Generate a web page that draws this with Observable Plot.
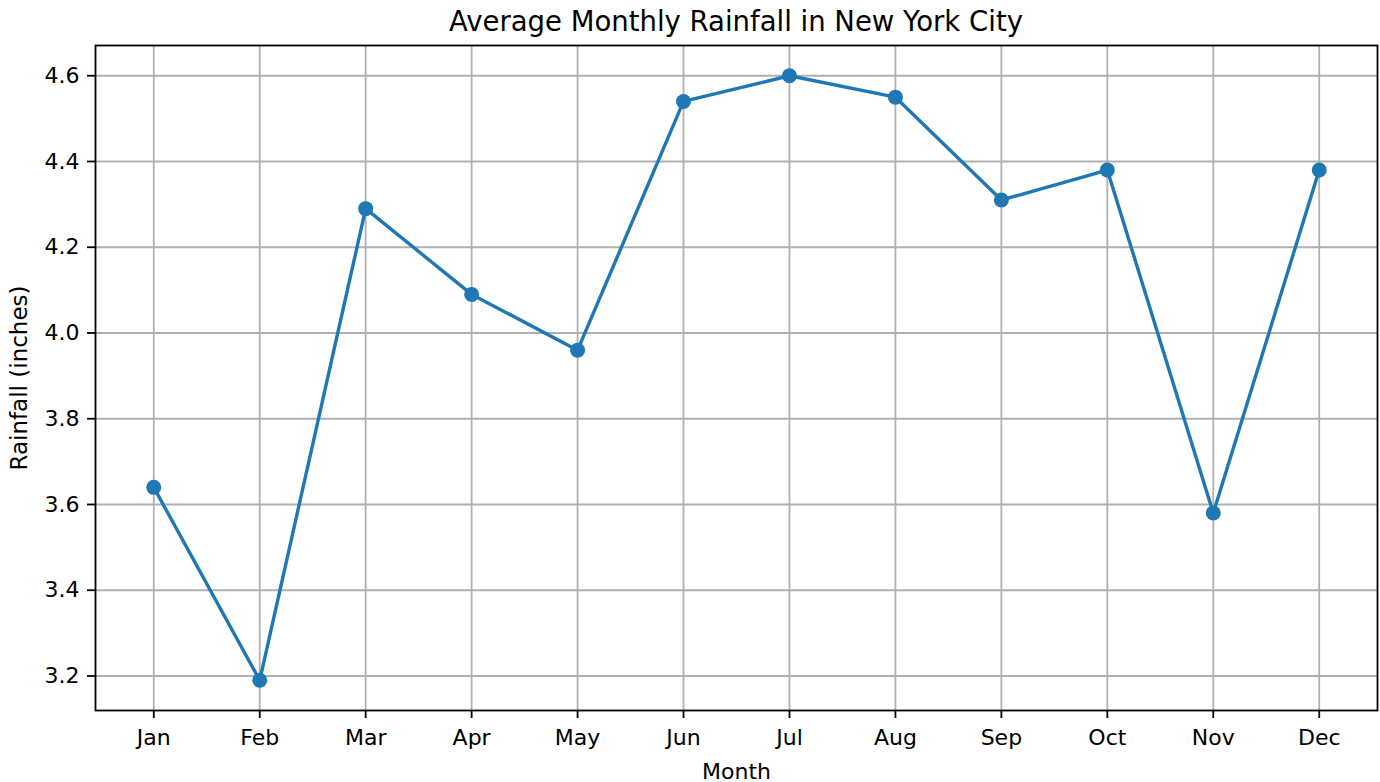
<!DOCTYPE html>
<html>
<head>
<meta charset="utf-8">
<script src="https://cdn.jsdelivr.net/npm/d3@7"></script>
<script src="https://cdn.jsdelivr.net/npm/@observablehq/plot@0.6"></script>
<style>
  html, body { margin: 0; padding: 0; background: #fff; }
  #wrap { width: 1380px; height: 782px; position: relative; font-family: "DejaVu Sans", sans-serif; }
  #title { position: absolute; z-index: 2; left: 95px; width: 1282px; top: 5px; text-align: center; font-size: 27.5px; color: #000; line-height: 32px; }
  #chart { position: absolute; z-index: 1; left: 0; top: 35px; }
</style>
</head>
<body>
<div id="wrap">
  <div id="title">Average Monthly Rainfall in New York City</div>
  <div id="chart"></div>
</div>
<script>
const months = ["Jan", "Feb", "Mar", "Apr", "May", "Jun", "Jul", "Aug", "Sep", "Oct", "Nov", "Dec"];
const rainfall = [3.64, 3.19, 4.29, 4.09, 3.96, 4.54, 4.60, 4.55, 4.31, 4.38, 3.58, 4.38];
const yTicks = [3.2, 3.4, 3.6, 3.8, 4.0, 4.2, 4.4, 4.6];

const data = months.map((m, i) => ({i, month: m, value: rainfall[i]}));
const idx = months.map((_, i) => i);

const color = "#1f77b4";
const chart = Plot.plot({
  width: 1380,
  height: 747,
  marginTop: 10,
  marginBottom: 72,
  marginLeft: 95,
  marginRight: 3,
  style: { fontFamily: "DejaVu Sans, sans-serif", background: "transparent", color: "#000" },
  x: { domain: [-0.55, 11.55] },
  y: { domain: [3.1195, 4.6705] },
  marks: [
    Plot.gridX(idx, { stroke: "#b0b0b0", strokeOpacity: 1, strokeWidth: 1.8 }),
    Plot.gridY(yTicks, { stroke: "#b0b0b0", strokeOpacity: 1, strokeWidth: 1.8 }),
    Plot.line(data, { x: "i", y: "value", stroke: color, strokeWidth: 3.4 }),
    Plot.dot(data, { x: "i", y: "value", fill: color, r: 7.5 }),
    Plot.frame({ stroke: "#000", strokeWidth: 1.8 }),
    Plot.axisX(idx, {
      tickFormat: (d) => months[d], tickSize: 8, tickPadding: 11, fontSize: 22, strokeWidth: 1.8,
      label: "Month", labelAnchor: "center", labelArrow: "none", labelOffset: 68
    }),
    Plot.axisY(yTicks, {
      tickFormat: d3.format(".1f"), tickSize: 8, tickPadding: 8, fontSize: 22, strokeWidth: 1.8,
      label: null
    }),
    Plot.axisY(yTicks, {
      tickSize: 0, tickFormat: () => "", fontSize: 23,
      label: "Rainfall (inches)", labelAnchor: "center", labelArrow: "none", labelOffset: 85
    })
  ]
});
document.getElementById("chart").appendChild(chart);
</script>
</body>
</html>
